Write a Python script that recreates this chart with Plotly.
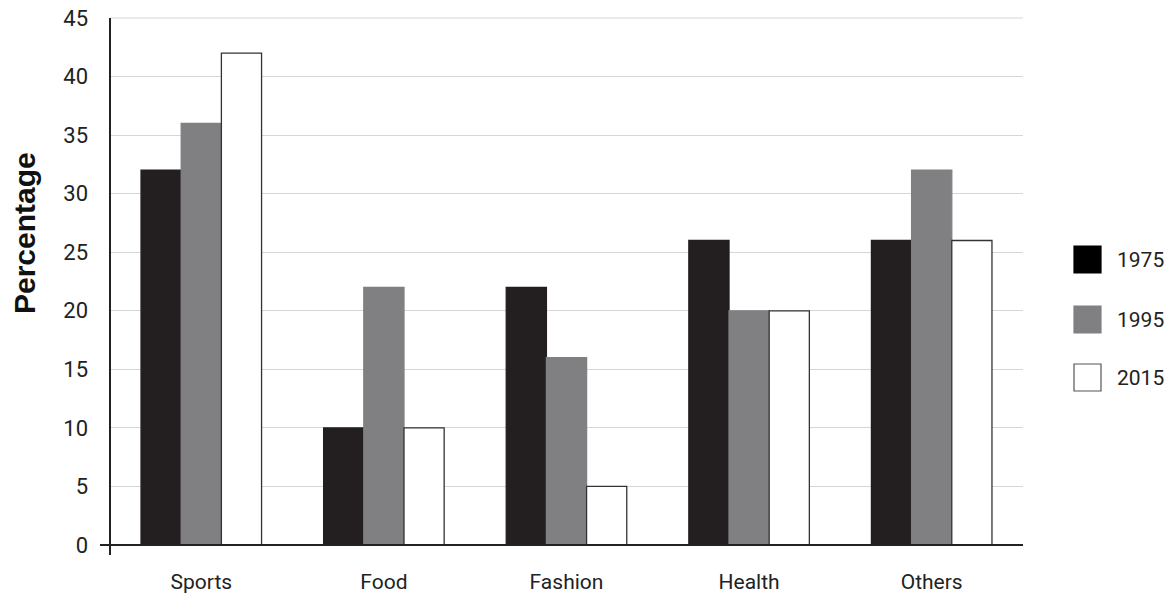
import plotly.graph_objects as go

categories = ["Sports", "Food", "Fashion", "Health", "Others"]
series_names = ["1975", "1995", "2015"]
values_1975 = [32, 10, 22, 26, 26]
values_1995 = [36, 22, 16, 20, 32]
values_2015 = [42, 10, 5, 20, 26]
y_ticks = [0, 5, 10, 15, 20, 25, 30, 35, 40, 45]

W, H = 1171, 594
PLOT_L, PLOT_R, PLOT_T, PLOT_B = 110, 1023, 18, 545  # screen px
L, T = PLOT_L, PLOT_T
R, B = W - PLOT_R, H - PLOT_B
PW, PH = PLOT_R - PLOT_L, PLOT_B - PLOT_T

def px(x):
    return (x - PLOT_L) / PW

def py(y):
    return (PLOT_B - y) / PH

fills = ["#231f20", "#808083", "#ffffff"]
lines = ["#231f20", "#808083", "#333333"]
series = [values_1975, values_1995, values_2015]

fig = go.Figure()
for name, vals, fc, lc in zip(series_names, series, fills, lines):
    fig.add_trace(go.Bar(
        x=categories, y=vals, name=name,
        marker=dict(color=fc, line=dict(color=lc, width=1.3)),
        showlegend=False,
    ))

font_ticks = "Roboto, sans-serif"
fig.update_layout(
    width=W, height=H,
    margin=dict(l=L, r=R, t=T, b=B, autoexpand=False),
    plot_bgcolor="white", paper_bgcolor="white",
    barmode="group", bargap=0.34, bargroupgap=0,
    xaxis=dict(
        showgrid=False, showline=False, zeroline=False,
        tickfont=dict(family=font_ticks, size=21, color="#222"),
        ticklabelstandoff=22,
    ),
    yaxis=dict(
        range=[0, 45], tickvals=y_ticks, showgrid=True,
        gridcolor="#d6d6d6", gridwidth=1, zeroline=False, showline=False,
        tickfont=dict(family=font_ticks, size=22, color="#222"),
        ticklabelstandoff=21,
    ),
)

# top gridline (at the plot edge) and axis lines
fig.add_shape(type="line", xref="paper", yref="paper", layer="below",
              x0=0, x1=1, y0=1, y1=1, line=dict(color="#d6d6d6", width=1))
fig.add_shape(type="line", xref="paper", yref="paper",
              x0=px(100), x1=1, y0=0, y1=0, line=dict(color="#222", width=2))
fig.add_shape(type="line", xref="paper", yref="paper",
              x0=0, x1=0, y0=py(555), y1=1, line=dict(color="#222", width=2))

# y-axis title
fig.add_annotation(text="<b>Percentage</b>", xref="paper", yref="paper",
                   x=px(24), y=py(233), textangle=-90, showarrow=False,
                   font=dict(family="Liberation Sans, Arial, sans-serif", size=30, color="#111"),
                   xanchor="center", yanchor="middle")

# manual legend
legend_fill = ["#000000", "#808083", "#ffffff"]
legend_line = ["#000000", "#808083", "#555555"]
tops = [246, 306, 364]
for name, top, fc, lc in zip(series_names, tops, legend_fill, legend_line):
    fig.add_shape(type="rect", xref="paper", yref="paper",
                  x0=px(1074), x1=px(1101), y0=py(top + 27), y1=py(top),
                  fillcolor=fc, line=dict(color=lc, width=1.2))
    fig.add_annotation(text=name, xref="paper", yref="paper",
                       x=px(1115), y=py(top + 14), showarrow=False,
                       xanchor="left", yanchor="middle",
                       font=dict(family=font_ticks, size=21, color="#222"))

fig.write_html(
    "out.html",
    config={"displayModeBar": False},
    post_script="document.body.style.margin='0';document.body.style.overflow='hidden';",
)
